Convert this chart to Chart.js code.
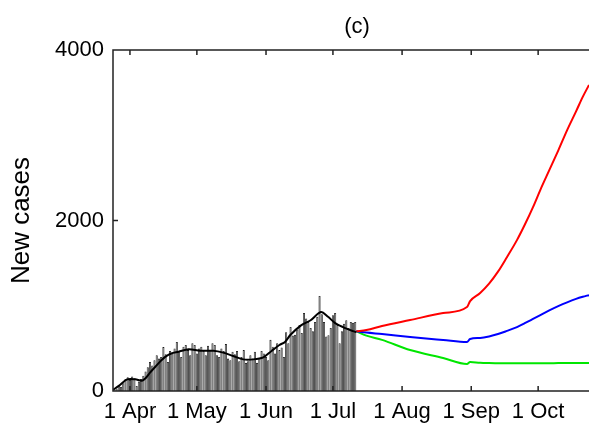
<!DOCTYPE html>
<html>
<head>
<meta charset="utf-8">
<script src="https://cdn.jsdelivr.net/npm/chart.js@4.4.1/dist/chart.umd.min.js"></script>
<style>
  html, body { margin: 0; padding: 0; background: #fff; }
  #chart { display: block; }
</style>
</head>
<body>
<canvas id="chart" width="589" height="425"></canvas>
<script>
// days counted from 1 Apr (day 0)
const FIRST_BAR_DAY = -7;
const dailyCases = [
  10, 30, 60, 50, 90, 140, 160,
  130, 170, 150, 60, 110, 140, 180,
  230, 280, 340, 300, 360, 420, 380,
  400, 515, 430, 340, 470, 440, 500,
  575, 470, 400, 520, 540, 480, 420,
  560, 540, 440, 500, 520, 470, 420,
  530, 480, 560, 540, 420, 400, 500,
  470, 550, 380, 360, 460, 430, 470,
  350, 400, 480, 330, 350, 420, 380,
  460, 330, 390, 470, 440, 400, 360,
  600, 520, 440, 560, 480, 510, 400,
  690, 560, 750, 650, 660, 720, 775,
  680, 915, 850, 810, 740, 700, 810,
  870, 1114, 900, 810, 640, 655, 740,
  890, 915, 775, 560, 700, 790, 830,
  740, 810, 800, 810,
];

const smoothDays  = [-7.5, -5, -1.3, 2.4, 5.4, 7, 9, 11.4, 13.5, 15.8, 18.5, 21.8, 26.3, 31.4, 37.4, 41.8, 46.3, 50.8, 55.3, 59.8, 63.5, 67, 69.5, 72, 76.7, 81, 85.6, 88.8, 92, 95.5, 100, 101.5];
const smoothCases = [15, 60, 137, 137, 120, 150, 215, 285, 345, 400, 440, 460, 490, 472, 472, 450, 410, 371, 371, 395, 470, 540, 575, 660, 770, 830, 926, 870, 797, 750, 703, 690];

const projDays  = [101.5, 106, 113, 125.6, 140.4, 151.1, 152.5, 157, 161, 165, 169, 173.5, 177, 180.7, 184, 188, 192, 196, 200, 203, 205.8];
const projRed   = [700, 715, 762, 832, 914, 985, 1055, 1150, 1260, 1400, 1570, 1770, 1950, 2157, 2360, 2590, 2820, 3060, 3280, 3450, 3590];
const projBlue  = [700, 685, 668, 633, 598, 574, 610, 622, 640, 668, 705, 750, 795, 845, 890, 945, 995, 1040, 1080, 1105, 1125];
const projGreen = [700, 650, 600, 480, 387, 316, 340, 330, 327, 326, 325, 325, 325, 325, 326, 326, 327, 327, 328, 328, 328];

const monthDays   = [0, 30, 61, 91, 122, 153, 183];
const monthLabels = ['1 Apr', '1 May', '1 Jun', '1 Jul', '1 Aug', '1 Sep', '1 Oct'];
const yTicks      = [0, 2000, 4000];

const FONT = '"Liberation Sans", Arial, Helvetica, sans-serif';

const pts = (xs, ys) => xs.map((x, i) => ({ x, y: ys[i] }));

const projLine = (data, color) => ({
  type:             'line',
  data,
  borderColor:      color,
  borderWidth:      2,
  pointRadius:      0,
  cubicInterpolationMode: 'monotone',
  order:            1,
});

// MATLAB-like box with inward ticks and the title over the axes
const boxPlugin = {
  id: 'box',
  afterDraw(chart) {
    const { ctx, chartArea: a, scales } = chart;
    ctx.save();
    ctx.strokeStyle = '#222';
    ctx.lineWidth = 1.5;
    ctx.beginPath();
    ctx.moveTo(a.right + 2, a.top);
    ctx.lineTo(a.left, a.top);
    ctx.lineTo(a.left, a.bottom);
    ctx.lineTo(a.right + 2, a.bottom);
    monthDays.forEach((d) => {
      const px = scales.x.getPixelForValue(d);
      ctx.moveTo(px, a.bottom); ctx.lineTo(px, a.bottom - 5);
      ctx.moveTo(px, a.top);    ctx.lineTo(px, a.top + 5);
    });
    yTicks.forEach((v) => {
      const py = scales.y.getPixelForValue(v);
      ctx.moveTo(a.left, py); ctx.lineTo(a.left + 5, py);
    });
    ctx.stroke();

    ctx.fillStyle = '#000';
    ctx.font = '22px ' + FONT;
    ctx.textAlign = 'center';
    ctx.textBaseline = 'middle';
    ctx.fillText('(c)', (a.left + a.right) / 2 + 6, 27);
    ctx.restore();
  },
};

new Chart(document.getElementById('chart').getContext('2d'), {
  type: 'bar',
  data: {
    datasets: [
      {
        type:        'line',
        data:        pts(smoothDays, smoothCases),
        borderColor: '#000',
        borderWidth: 2,
        pointRadius: 0,
        tension:     0.3,
        order:       0,
      },
      projLine(pts(projDays, projRed), '#ff0000'),
      projLine(pts(projDays, projBlue), '#0000ff'),
      projLine(pts(projDays, projGreen), '#00e600'),
      {
        type:            'bar',
        data:            dailyCases.map((v, i) => ({ x: FIRST_BAR_DAY + i, y: v })),
        backgroundColor: '#737373',
        borderColor:     '#1a1a1a',
        borderWidth:     0.8,
        borderSkipped:   'bottom',
        barPercentage:   0.95,
        categoryPercentage: 1,
        order:           5,
      },
    ],
  },
  options: {
    responsive: false,
    animation:  false,
    layout: { padding: { top: 50, right: 0, left: 0, bottom: 0 } },
    plugins: {
      legend:  { display: false },
      tooltip: { enabled: false },
    },
    scales: {
      x: {
        type:   'linear',
        offset: false,
        min:    -7.6,
        max:    205.8,
        grid:   { display: false, drawTicks: false, offset: false },
        border: { display: false },
        ticks: {
          color:    '#000',
          font:     { family: FONT, size: 22 },
          padding:  8,
          maxRotation: 0,
          autoSkip: false,
          callback: (v) => monthLabels[monthDays.indexOf(v)] ?? '',
        },
        afterBuildTicks: (s) => { s.ticks = monthDays.map((v) => ({ value: v })); },
        afterFit: (s) => { s.height = 34; },
      },
      y: {
        min: 0,
        max: 4000,
        grid:   { display: false, drawTicks: false },
        border: { display: false },
        ticks: {
          color:    '#000',
          font:     { family: FONT, size: 22 },
          padding:  9,
          callback: (v) => String(v),
        },
        afterBuildTicks: (s) => { s.ticks = yTicks.map((v) => ({ value: v })); },
        title: {
          display: true,
          text:    'New cases',
          color:   '#000',
          font:    { family: FONT, size: 26 },
          padding: { top: 6, bottom: 0 },
        },
        afterFit: (s) => { s.width = 113; },
      },
    },
  },
  plugins: [boxPlugin],
});
</script>
</body>
</html>
